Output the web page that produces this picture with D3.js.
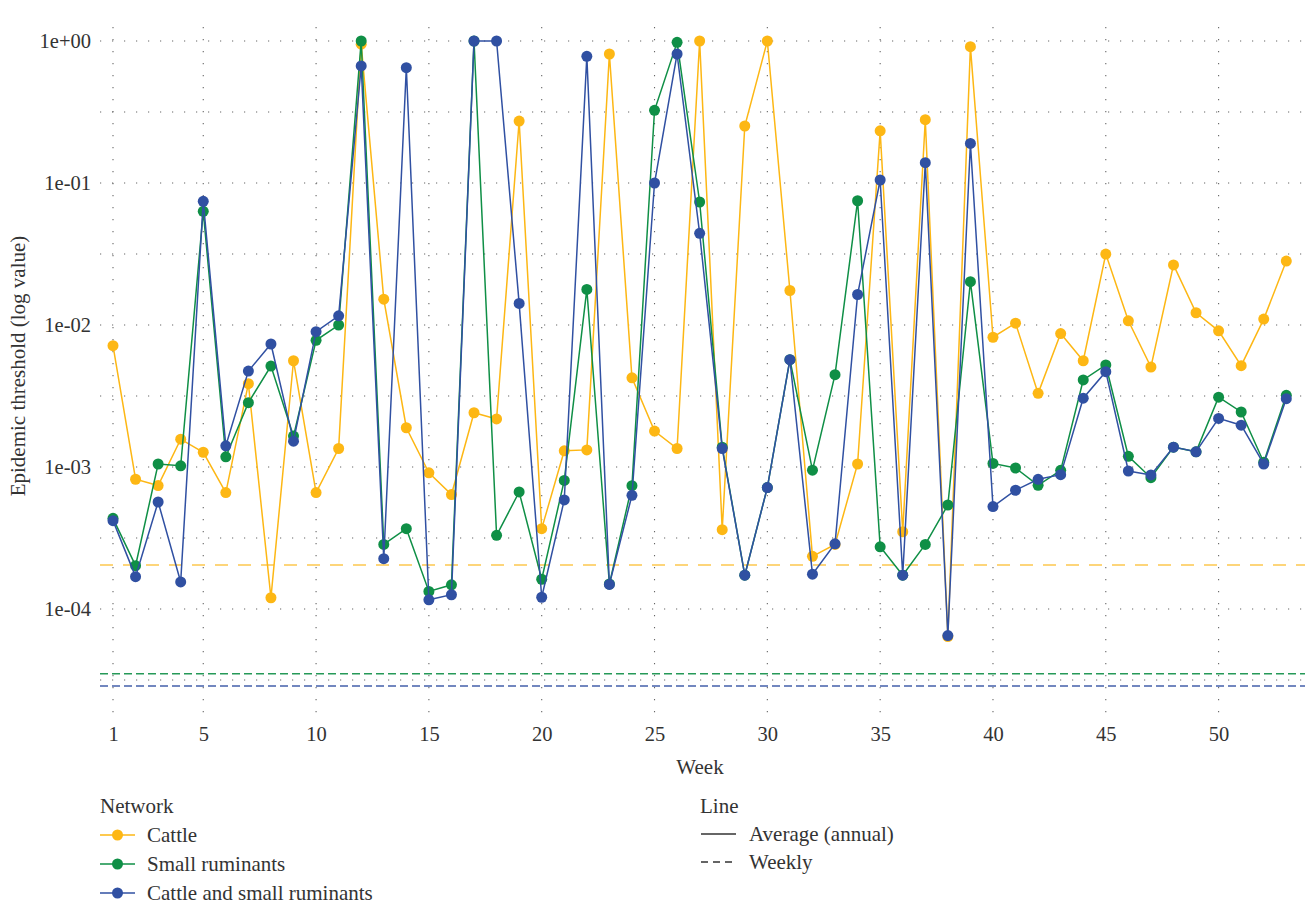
<!DOCTYPE html>
<html><head><meta charset="utf-8">
<script src="https://cdn.jsdelivr.net/npm/d3@7"></script>
<style>
body{margin:0;background:#fff;}
svg text{font-family:"Liberation Serif","DejaVu Serif",serif !important;fill:#333;}
</style></head>
<body><svg id="chart" width="1308" height="907"></svg>
<script>
const weeks = d3.range(1, 54);
const cattle = [7.15e-3,8.2e-4,7.4e-4,1.57e-3,1.27e-3,6.6e-4,3.86e-3,1.2e-4,5.6e-3,6.6e-4,
  1.35e-3,0.95,1.52e-2,1.89e-3,9.1e-4,6.4e-4,2.41e-3,2.18e-3,0.273,3.68e-4,
  1.30e-3,1.32e-3,0.81,4.25e-3,1.79e-3,1.35e-3,1.0,3.62e-4,0.252,1.0,
  1.75e-2,2.35e-4,2.85e-4,1.05e-3,0.233,3.5e-4,0.279,6.4e-5,0.912,8.2e-3,
  1.03e-2,3.3e-3,8.7e-3,5.6e-3,3.16e-2,1.07e-2,5.06e-3,2.65e-2,1.22e-2,9.1e-3,
  5.17e-3,1.1e-2,2.82e-2];
const smallRuminants = [4.35e-4,2.02e-4,1.05e-3,1.02e-3,6.32e-2,1.18e-3,2.84e-3,5.14e-3,1.65e-3,7.8e-3,
  1.0e-2,1.0,2.85e-4,3.68e-4,1.33e-4,1.48e-4,1.0,3.3e-4,6.67e-4,1.62e-4,
  8.05e-4,1.78e-2,1.5e-4,7.39e-4,0.325,0.978,7.35e-2,1.38e-3,1.73e-4,7.16e-4,
  5.7e-3,9.5e-4,4.47e-3,7.5e-2,2.74e-4,1.73e-4,2.85e-4,5.4e-4,2.02e-2,1.06e-3,
  9.84e-4,7.43e-4,9.47e-4,4.1e-3,5.23e-3,1.19e-3,8.41e-4,1.38e-3,1.28e-3,3.1e-3,
  2.44e-3,1.08e-3,3.2e-3];
const cattleSmall = [4.19e-4,1.69e-4,5.67e-4,1.55e-4,7.43e-2,1.41e-3,4.74e-3,7.35e-3,1.52e-3,8.97e-3,
  1.16e-2,0.667,2.26e-4,0.649,1.16e-4,1.26e-4,1.0,1.0,1.42e-2,1.21e-4,
  5.86e-4,0.78,1.49e-4,6.32e-4,0.1,0.81,4.42e-2,1.35e-3,1.73e-4,7.16e-4,
  5.7e-3,1.76e-4,2.88e-4,1.64e-2,0.105,1.73e-4,0.139,6.5e-5,0.19,5.26e-4,
  6.86e-4,8.19e-4,8.83e-4,3.05e-3,4.69e-3,9.37e-4,8.79e-4,1.38e-3,1.28e-3,2.2e-3,
  1.97e-3,1.05e-3,3.03e-3];
const weeklyThreshold = [2.04e-4, 3.5e-5, 2.87e-5];
const seriesNames = ["Cattle","Small ruminants","Cattle and small ruminants"];
const seriesColors = ["#FDB714","#0F8F46","#3050A2"];
const xTicks = [1,5,10,15,20,25,30,35,40,45,50];
const yTicks = [1,1e-1,1e-2,1e-3,1e-4];
const yTickLabels = ["1e+00","1e-01","1e-02","1e-03","1e-04"];
const yMinor = [Math.pow(10,-0.5),Math.pow(10,-1.5),Math.pow(10,-2.5),Math.pow(10,-3.5),Math.pow(10,-4.5)];
const lineLegend = ["Average (annual)","Weekly"];

const FONT = '"Liberation Serif","DejaVu Serif",serif';
const svg = d3.select("#chart");
const P = {left:100,right:1305,top:9,bottom:722};
const x = d3.scaleLinear().domain([1,53]).range([113,1286.3]);
const y = d3.scaleLog().domain([1e-4,1]).range([609,41]);

const grid = svg.append("g");
const gridStyle = s => s.attr("stroke","#666").attr("stroke-width",1.1).attr("stroke-dasharray","1.2,10.8");
[...yTicks,...yMinor].forEach(v=>{
  gridStyle(grid.append("line").attr("x1",P.left).attr("x2",P.right).attr("y1",y(v)).attr("y2",y(v)));
});
xTicks.forEach(v=>{
  gridStyle(grid.append("line").attr("x1",x(v)).attr("x2",x(v)).attr("y1",P.top+18).attr("y2",P.bottom));
});

// axes (text only)
const yAxis = d3.axisLeft(y).tickValues(yTicks).tickFormat((d,i)=>yTickLabels[i]).tickSize(0).tickPadding(0);
const gy = svg.append("g").attr("transform",`translate(${P.left-9},0)`).call(yAxis);
gy.select(".domain").remove();
gy.attr("font-family",FONT);
gy.selectAll("text").attr("font-size",20.5).style("font-family",FONT).style("fill","#333");
const xAxis = d3.axisBottom(x).tickValues(xTicks).tickFormat(d3.format("d")).tickSize(0).tickPadding(0);
const gx = svg.append("g").attr("transform",`translate(0,${P.bottom+4})`).call(xAxis);
gx.select(".domain").remove();
gx.attr("font-family",FONT);
gx.selectAll("text").attr("font-size",20.5).style("font-family",FONT).style("fill","#333");

svg.append("text").attr("x",700).attr("y",774).attr("text-anchor","middle").attr("font-size",21).style("font-family",FONT).text("Week");
svg.append("text").attr("transform","translate(25,366) rotate(-90)").attr("text-anchor","middle").attr("font-size",21).style("font-family",FONT).text("Epidemic threshold (log value)");

// weekly dashed lines
const dashes = ["13,10","8,4","8,4"];
weeklyThreshold.forEach((v,i)=>{
  svg.append("line").attr("x1",P.left).attr("x2",P.right).attr("y1",y(v)).attr("y2",y(v))
    .attr("stroke",seriesColors[i]).attr("stroke-width",i===0?1.6:1.4).attr("opacity",i===0?0.75:0.9)
    .attr("stroke-dasharray",dashes[i]);
});

// series
const allSeries = [cattle, smallRuminants, cattleSmall];
const line = d3.line().x((d,i)=>x(weeks[i])).y(d=>y(d));
allSeries.forEach((vals,i)=>{
  const g = svg.append("g");
  g.append("path").datum(vals).attr("d",line).attr("fill","none").attr("stroke",seriesColors[i]).attr("stroke-width",1.5);
  g.selectAll("circle").data(vals).join("circle").attr("cx",(d,j)=>x(weeks[j])).attr("cy",d=>y(d)).attr("r",5.5).attr("fill",seriesColors[i]);
});

// legend: Network
const lg = svg.append("g");
lg.append("text").attr("x",100).attr("y",813).attr("font-size",21).style("font-family",FONT).text("Network");
seriesNames.forEach((n,i)=>{
  const yy = 835 + i*29;
  lg.append("line").attr("x1",100).attr("x2",135).attr("y1",yy).attr("y2",yy).attr("stroke",seriesColors[i]).attr("stroke-width",1.5);
  lg.append("circle").attr("cx",117.5).attr("cy",yy).attr("r",5.5).attr("fill",seriesColors[i]);
  lg.append("text").attr("x",147).attr("y",yy+7).attr("font-size",21).style("font-family",FONT).text(n);
});
// legend: Line
const lg2 = svg.append("g");
lg2.append("text").attr("x",700).attr("y",813).attr("font-size",21).style("font-family",FONT).text("Line");
lineLegend.forEach((n,i)=>{
  const yy = 834 + i*28;
  lg2.append("line").attr("x1",701).attr("x2",736).attr("y1",yy).attr("y2",yy).attr("stroke","#333").attr("stroke-width",1.3)
    .attr("stroke-dasharray",i===1?"7,5":null);
  lg2.append("text").attr("x",749).attr("y",yy+7).attr("font-size",21).style("font-family",FONT).text(n);
});
</script></body></html>
